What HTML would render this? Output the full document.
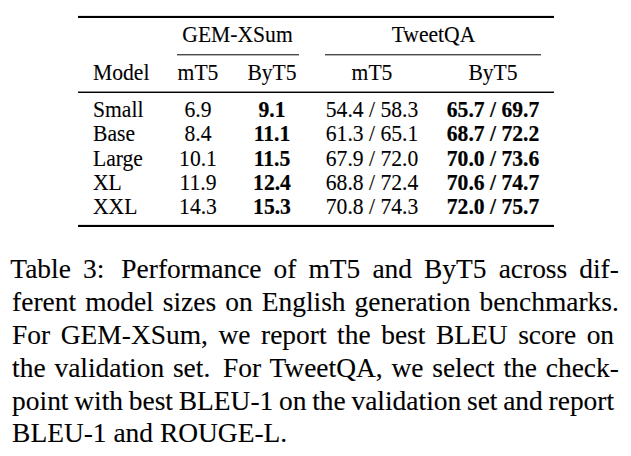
<!DOCTYPE html>
<html><head><meta charset="utf-8">
<style>
html,body{margin:0;padding:0;background:#fff;}
body{-webkit-text-stroke:0.1px #000;width:631px;height:456px;position:relative;overflow:hidden;font-family:"Liberation Serif",serif;color:#000;}
.r{position:absolute;background:#000;}
.t{position:absolute;font-size:21.6px;line-height:1;white-space:nowrap;}
.t{transform:scaleY(1.03);transform-origin:0 18px;}
.c{transform:translateX(-50%) scaleY(1.03);}
b{font-weight:bold;-webkit-text-stroke:0.2px #000;}
.cl{position:absolute;left:12.1px;width:602.00px;font-size:27.45px;line-height:1;text-align:justify;text-align-last:justify;word-spacing:-2px;}
.cl.last{text-align:left;text-align-last:left;word-spacing:normal;}
.pr{margin-right:-4.8px;}
.x{display:inline-block;height:1px;}
</style></head><body>
<div class="r" style="left:78px;top:15px;width:476px;height:1px;background:#e6e6e6"></div>
<div class="r" style="left:78px;top:16px;width:476px;height:2px"></div>
<div class="r" style="left:177px;top:54px;width:122px;height:1px;background:#4a4a4a"></div>
<div class="r" style="left:177px;top:55px;width:122px;height:1px;background:#b4b4b4"></div>
<div class="r" style="left:325px;top:54px;width:216px;height:1px;background:#4a4a4a"></div>
<div class="r" style="left:325px;top:55px;width:216px;height:1px;background:#b4b4b4"></div>
<div class="r" style="left:78px;top:91px;width:476px;height:1px;background:#8a8a8a"></div>
<div class="r" style="left:78px;top:92px;width:476px;height:1px"></div>
<div class="r" style="left:78px;top:224px;width:476px;height:1px;background:#e6e6e6"></div>
<div class="r" style="left:78px;top:225px;width:476px;height:2px"></div>

<div class="t c" style="left:237.5px;top:25.3px">GEM-XSum</div>
<div class="t c" style="left:433.5px;top:25.3px">TweetQA</div>

<div class="t" style="left:93px;top:63px">Model</div>
<div class="t c" style="left:198px;top:63px">mT5</div>
<div class="t c" style="left:272px;top:63px">ByT5</div>
<div class="t c" style="left:372px;top:63px">mT5</div>
<div class="t c" style="left:493px;top:63px">ByT5</div>

<div class="t" style="left:93px;top:100px">Small</div>
<div class="t c" style="left:198px;top:100px">6.9</div>
<div class="t c" style="left:272px;top:100px"><b>9.1</b></div>
<div class="t c" style="left:372px;top:100px">54.4 / 58.3</div>
<div class="t c" style="left:493px;top:100px"><b>65.7 / 69.7</b></div>

<div class="t" style="left:93px;top:124px">Base</div>
<div class="t c" style="left:198px;top:124px">8.4</div>
<div class="t c" style="left:272px;top:124px"><b>11.1</b></div>
<div class="t c" style="left:372px;top:124px">61.3 / 65.1</div>
<div class="t c" style="left:493px;top:124px"><b>68.7 / 72.2</b></div>

<div class="t" style="left:93px;top:149px">Large</div>
<div class="t c" style="left:198px;top:149px">10.1</div>
<div class="t c" style="left:272px;top:149px"><b>11.5</b></div>
<div class="t c" style="left:372px;top:149px">67.9 / 72.0</div>
<div class="t c" style="left:493px;top:149px"><b>70.0 / 73.6</b></div>

<div class="t" style="left:93px;top:173px">XL</div>
<div class="t c" style="left:198px;top:173px">11.9</div>
<div class="t c" style="left:272px;top:173px"><b>12.4</b></div>
<div class="t c" style="left:372px;top:173px">68.8 / 72.4</div>
<div class="t c" style="left:493px;top:173px"><b>70.6 / 74.7</b></div>

<div class="t" style="left:93px;top:197px">XXL</div>
<div class="t c" style="left:198px;top:197px">14.3</div>
<div class="t c" style="left:272px;top:197px"><b>15.3</b></div>
<div class="t c" style="left:372px;top:197px">70.8 / 74.3</div>
<div class="t c" style="left:493px;top:197px"><b>72.0 / 75.7</b></div>

<div class="cl" style="top:256.00px"><span style="margin-left:-1.8px">Table</span> 3:<span class="x" style="width:5px"></span> Performance of mT5 and ByT5 across dif<span class="pr">-</span></div>
<div class="cl" style="top:288.80px">ferent model sizes on English generation benchmarks<span class="pr">.</span></div>
<div class="cl" style="top:321.70px">For GEM-XSum, we report the best BLEU score on</div>
<div class="cl" style="top:354.60px">the validation set.<span class="x" style="width:4px"></span> For TweetQA, we select the check<span class="pr">-</span></div>
<div class="cl" style="top:387.50px">point with best BLEU-1 on the validation set and report</div>
<div class="cl last" style="top:420.40px">BLEU-1 and ROUGE-L.</div>
</body></html>
